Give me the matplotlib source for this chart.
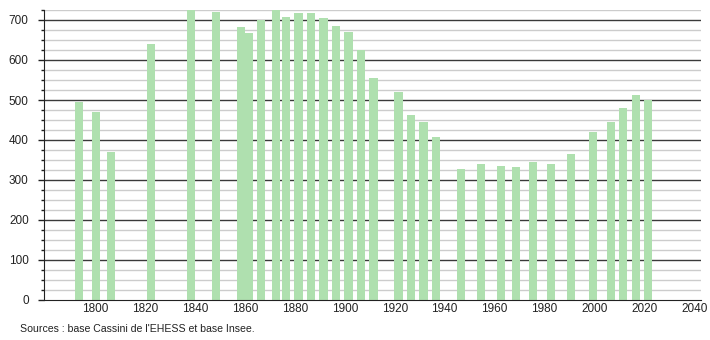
import numpy as np
import matplotlib
matplotlib.use("Agg")
import matplotlib.pyplot as plt
from matplotlib.ticker import MultipleLocator

# census years (as placed on the chart) and population
years = [1793, 1800, 1806, 1822, 1838, 1848, 1858, 1861, 1866, 1872,
         1876, 1881, 1886, 1891, 1896, 1901, 1906, 1911, 1921, 1926,
         1931, 1936, 1946, 1954, 1962, 1968, 1975, 1982, 1990, 1999,
         2006, 2011, 2016, 2021]
population = [496, 470, 370, 640, 730, 720, 683, 668, 700, 724,
              708, 717, 717, 705, 685, 670, 625, 555, 520, 462,
              445, 407, 327, 340, 335, 332, 345, 340, 365, 420,
              445, 480, 512, 500]
xticks = list(range(1800, 2041, 20))
source = "Sources : base Cassini de l'EHESS et base Insee."

plt.rcParams['font.family'] = ['Liberation Sans', 'DejaVu Sans']

fig = plt.figure(figsize=(7.1, 3.4), dpi=100)
ax = fig.add_axes([44/710, 40/340, (701-44)/710, 290/340])

ax.set_xlim(1779.6, 2042.6)
ax.set_ylim(0, 725)

# grid: minor grey every 25, major dark every 100
for v in np.arange(25, 726, 25):
    if v % 100 == 0:
        ax.axhline(v, color='#3a3a3a', lw=1.0, zorder=1)
    else:
        ax.axhline(v, color='#cccccc', lw=1.0, zorder=1)

ax.bar(np.array(years) + 0.5, population, width=3.3, color='#afe0af',
       edgecolor='none', zorder=2)

ax.set_xticks(xticks)
ax.set_xticklabels([str(t) for t in xticks])
ax.yaxis.set_major_locator(MultipleLocator(100))
ax.yaxis.set_minor_locator(MultipleLocator(25))
ax.tick_params(axis='y', which='major', length=4, width=1, pad=7,
               labelsize=8.5, colors='#222222')
ax.tick_params(axis='y', which='minor', length=2, width=1, color='#222222')
ax.tick_params(axis='x', length=0, pad=2.5, labelsize=8.5, colors='#222222')

for s in ['top', 'right']:
    ax.spines[s].set_visible(False)
ax.spines['left'].set_color('#222222')
ax.spines['bottom'].set_color('#222222')
ax.spines['left'].set_zorder(3)
ax.spines['bottom'].set_zorder(3)

fig.text(20/710, 1 - 329/340, source, fontsize=7.6, color='#222222',
         va='center', ha='left')

fig.savefig("out.png", dpi=100)
